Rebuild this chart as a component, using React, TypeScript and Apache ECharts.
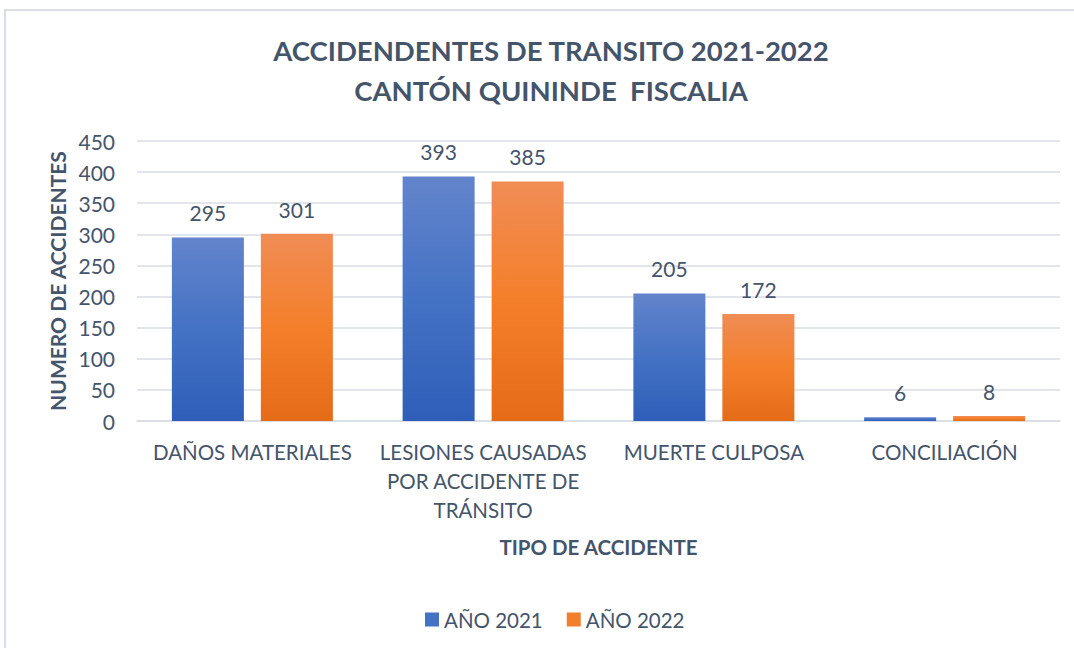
import React, { useEffect, useRef } from "react";
import * as echarts from "echarts";

const categories = [
  "DAÑOS MATERIALES",
  "LESIONES CAUSADAS\nPOR ACCIDENTE DE\nTRÁNSITO",
  "MUERTE CULPOSA",
  "CONCILIACIÓN",
];
const values2021 = [295, 393, 205, 6];
const values2022 = [301, 385, 172, 8];
const seriesNames = ["AÑO 2021", "AÑO 2022"];

const TXT = "#44546A";
const FONT = "Lato, 'Open Sans', sans-serif";

export default function App() {
  const ref = useRef<HTMLDivElement>(null);
  useEffect(() => {
    if (!ref.current) return;
    const chart = echarts.init(ref.current, undefined, { renderer: "svg" });
    const blue = new echarts.graphic.LinearGradient(0, 0, 0, 1, [
      { offset: 0, color: "#6384CC" },
      { offset: 0.5, color: "#4472C4" },
      { offset: 1, color: "#2E5EB9" },
    ]);
    const orange = new echarts.graphic.LinearGradient(0, 0, 0, 1, [
      { offset: 0, color: "#F08C55" },
      { offset: 0.5, color: "#F47F2A" },
      { offset: 1, color: "#E56B17" },
    ]);
    const label = {
      show: true,
      position: "top",
      distance: 14,
      color: TXT,
      fontSize: 21,
      fontFamily: FONT,
    };
    chart.setOption({
      animation: false,
      textStyle: { fontFamily: FONT },
      graphic: [
        {
          type: "rect",
          shape: { x: 5, y: 10, width: 1100, height: 700 },
          style: { fill: "none", stroke: "#D9DDE4", lineWidth: 2 },
          silent: true,
        },
      ],
      title: {
        text: "ACCIDENDENTES DE TRANSITO 2021-2022\nCANTÓN QUININDE  FISCALIA",
        left: 546,
        textAlign: "center",
        top: 25,
        textStyle: {
          color: TXT,
          fontSize: 27.5,
          fontWeight: "bold",
          lineHeight: 40,
          fontFamily: FONT,
        },
      },
      legend: {
        top: 604,
        left: 420,
        itemWidth: 14,
        itemHeight: 14,
        itemGap: 24,
        icon: "rect",
        textStyle: { color: TXT, fontSize: 20.5, fontFamily: FONT },
        data: [
          { name: seriesNames[0], itemStyle: { color: "#4472C4" } },
          { name: seriesNames[1], itemStyle: { color: "#F07F2E" } },
        ],
      },
      grid: { left: 137, right: 14, top: 141, bottom: 227, containLabel: false },
      xAxis: {
        type: "category",
        data: categories,
        name: "TIPO DE ACCIDENTE",
        nameLocation: "middle",
        nameGap: 115,
        nameTextStyle: { color: TXT, fontSize: 20.5, fontWeight: "bold", fontFamily: FONT },
        axisLine: { lineStyle: { color: "#D9DDE4", width: 1.5 } },
        axisTick: { show: false },
        axisLabel: {
          color: TXT,
          fontSize: 20.5,
          lineHeight: 29,
          margin: 16,
          interval: 0,
          fontFamily: FONT,
        },
      },
      yAxis: {
        type: "value",
        min: 0,
        max: 450,
        interval: 50,
        name: "NUMERO DE ACCIDENTES",
        nameLocation: "middle",
        nameGap: 68,
        nameTextStyle: { color: TXT, fontSize: 21, fontWeight: "bold", fontFamily: FONT },
        axisLine: { show: false },
        axisTick: { show: false },
        axisLabel: { color: TXT, fontSize: 21, margin: 22, fontFamily: FONT },
        splitLine: { lineStyle: { color: "#D9DDE4", width: 1.5 } },
      },
      series: [
        {
          name: seriesNames[0],
          type: "bar",
          data: values2021,
          barWidth: 72,
          barGap: "23.6%",
          itemStyle: { color: blue },
          label,
        },
        {
          name: seriesNames[1],
          type: "bar",
          data: values2022,
          barWidth: 72,
          itemStyle: { color: orange },
          label,
        },
      ],
    });
    return () => chart.dispose();
  }, []);
  return (
    <div
      ref={ref}
      style={{ position: "fixed", left: 0, top: 0, width: 1074, height: 648, background: "#fff" }}
    />
  );
}
